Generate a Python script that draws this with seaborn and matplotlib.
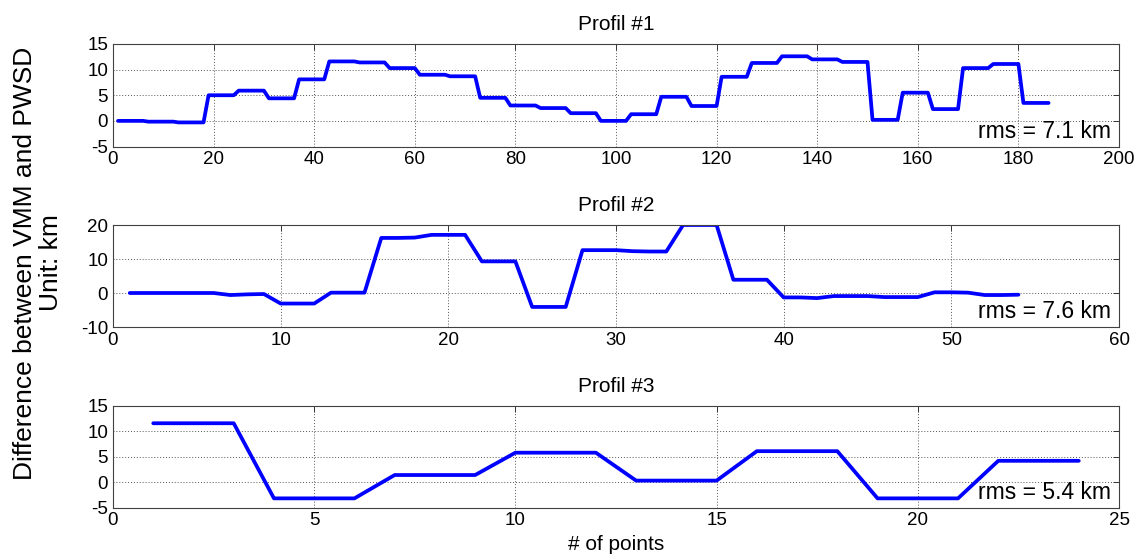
import numpy as np
import pandas as pd
import matplotlib
matplotlib.use("Agg")
import matplotlib.pyplot as plt
import seaborn as sns

# ---------------- data ----------------
p1_values = [
    0.0, 0.0, 0.0, 0.0, 0.0, 0.0,
    -0.15, -0.15, -0.15, -0.15, -0.15, -0.15,
    -0.3, -0.3, -0.3, -0.3, -0.3, -0.3,
    5.0, 5.0, 5.0, 5.0, 5.0, 5.0,
    5.9, 5.9, 5.9, 5.9, 5.9, 5.9,
    4.4, 4.4, 4.4, 4.4, 4.4, 4.4,
    8.1, 8.1, 8.1, 8.1, 8.1, 8.1,
    11.6, 11.6, 11.6, 11.6, 11.6, 11.6,
    11.4, 11.4, 11.4, 11.4, 11.4, 11.4,
    10.3, 10.3, 10.3, 10.3, 10.3, 10.3,
    9.0, 9.0, 9.0, 9.0, 9.0, 9.0,
    8.7, 8.7, 8.7, 8.7, 8.7, 8.7,
    4.5, 4.5, 4.5, 4.5, 4.5, 4.5,
    3.0, 3.0, 3.0, 3.0, 3.0, 3.0,
    2.5, 2.5, 2.5, 2.5, 2.5, 2.5,
    1.5, 1.5, 1.5, 1.5, 1.5, 1.5,
    0.0, 0.0, 0.0, 0.0, 0.0, 0.0,
    1.3, 1.3, 1.3, 1.3, 1.3, 1.3,
    4.7, 4.7, 4.7, 4.7, 4.7, 4.7,
    2.9, 2.9, 2.9, 2.9, 2.9, 2.9,
    8.6, 8.6, 8.6, 8.6, 8.6, 8.6,
    11.3, 11.3, 11.3, 11.3, 11.3, 11.3,
    12.6, 12.6, 12.6, 12.6, 12.6, 12.6,
    12.0, 12.0, 12.0, 12.0, 12.0, 12.0,
    11.5, 11.5, 11.5, 11.5, 11.5, 11.5,
    0.2, 0.2, 0.2, 0.2, 0.2, 0.2,
    5.5, 5.5, 5.5, 5.5, 5.5, 5.5,
    2.3, 2.3, 2.3, 2.3, 2.3, 2.3,
    10.3, 10.3, 10.3, 10.3, 10.3, 10.3,
    11.1, 11.1, 11.1, 11.1, 11.1, 11.1,
    3.5, 3.5, 3.5, 3.5, 3.5, 3.5,
]

p2_values = [
    0.0, 0.0, 0.0, 0.0, 0.0, 0.0, -0.6, -0.4, -0.3,
    -3.1, -3.1, -3.1, 0.1, 0.1, 0.1, 16.2, 16.2, 16.3,
    17.1, 17.1, 17.1, 9.3, 9.3, 9.3, -4.1, -4.1, -4.1,
    12.6, 12.6, 12.6, 12.3, 12.2, 12.2, 20.0, 20.0, 20.0,
    3.9, 3.9, 3.9, -1.3, -1.3, -1.5, -0.9, -0.9, -0.9,
    -1.2, -1.2, -1.2, 0.2, 0.2, 0.1, -0.6, -0.6, -0.5,
]

p3_values = [
    11.6, 11.6, 11.6, -3.2, -3.2, -3.2, 1.4, 1.4, 1.4,
    5.8, 5.8, 5.8, 0.3, 0.3, 0.3, 6.1, 6.1, 6.1,
    -3.2, -3.2, -3.2, 4.2, 4.2, 4.2,
]

titles = ["Profil #1", "Profil #2", "Profil #3"]
rms_labels = ["rms = 7.1 km", "rms = 7.6 km", "rms = 5.4 km"]
x_ticks = [[0, 20, 40, 60, 80, 100, 120, 140, 160, 180, 200],
           [0, 10, 20, 30, 40, 50, 60],
           [0, 5, 10, 15, 20, 25]]
y_ticks = [[-5, 0, 5, 10, 15],
           [-10, 0, 10, 20],
           [-5, 0, 5, 10, 15]]
y_label = "Difference between VMM and PWSD\nUnit: km"
x_label = "# of points"

# ---------------- style ----------------
sns.set_style("white")
plt.rcParams['font.family'] = ['Liberation Sans', 'DejaVu Sans']
plt.rcParams['text.color'] = 'black'
plt.rcParams['axes.labelcolor'] = 'black'
plt.rcParams['xtick.color'] = 'black'
plt.rcParams['ytick.color'] = 'black'

W, H = 1145, 559
fig = plt.figure(figsize=(W / 100, H / 100), dpi=100)

# axes boxes in pixels: (top, bottom)
left_px, right_px = 113, 1119
boxes = [(44, 146.5), (225, 327), (406, 507.5)]

series = [p1_values, p2_values, p3_values]
for i, (top, bot) in enumerate(boxes):
    ax = fig.add_axes([left_px / W, 1 - bot / H, (right_px - left_px) / W, (bot - top) / H])
    vals = series[i]
    df = pd.DataFrame({"point": np.arange(1, len(vals) + 1), "diff": vals})
    sns.lineplot(data=df, x="point", y="diff", ax=ax, color="#0000FF",
                 linewidth=2.7, legend=False)
    ax.set_xlim(x_ticks[i][0], x_ticks[i][-1])
    ax.set_ylim(y_ticks[i][0], y_ticks[i][-1])
    ax.set_xticks(x_ticks[i])
    ax.set_yticks(y_ticks[i])
    ax.set_xticklabels([str(t) for t in x_ticks[i]])
    ax.set_yticklabels([str(t) for t in y_ticks[i]])
    ax.grid(True, linestyle=(0, (1, 2)), color="#555555", linewidth=0.7)
    ax.tick_params(direction="in", top=True, right=True, length=4, width=0.7,
                   labelsize=13.5, pad=3.5, colors="#333333", labelcolor="black")
    for s in ax.spines.values():
        s.set_color("#404040")
        s.set_linewidth(0.8)
    ax.set_xlabel("")
    ax.set_ylabel("")
    ax.set_title(titles[i], fontsize=15, pad=10, color="black")
    ax.text(1 - 8 / (right_px - left_px), 8.5 / (bot - top), rms_labels[i],
            transform=ax.transAxes, ha="right", va="baseline", fontsize=16.5,
            color="black")
    if i == 2:
        ax.set_xlabel(x_label, fontsize=15, labelpad=4, color="black")

fig.text(38 / W, 1 - 263 / H, y_label, rotation=90, ha="center", va="center",
         multialignment="center", fontsize=19, linespacing=1.1, color="black")

fig.savefig("out.png", dpi=100)
